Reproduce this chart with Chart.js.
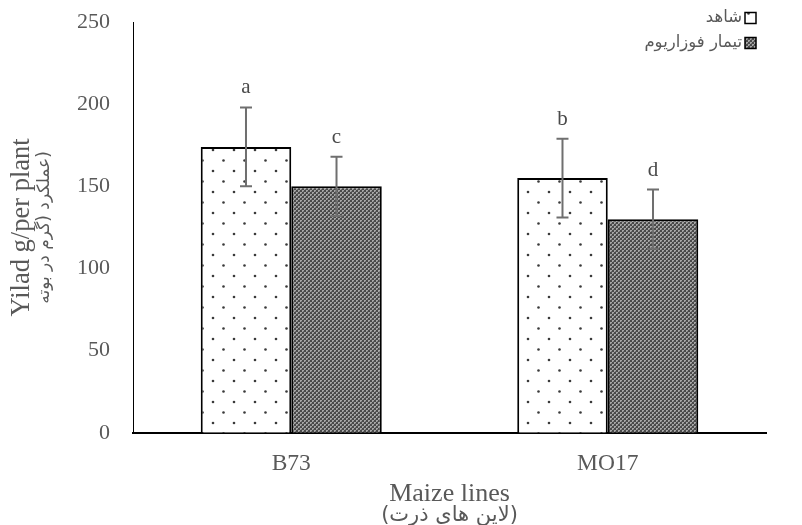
<!DOCTYPE html>
<html>
<head>
<meta charset="utf-8">
<script src="https://cdn.jsdelivr.net/npm/chart.js@4.4.1/dist/chart.umd.min.js"></script>
<style>
  html, body { margin: 0; padding: 0; background: #ffffff; }
  #wrap { width: 802px; height: 525px; position: relative; }
</style>
</head>
<body>
<div id="wrap"><canvas id="c" width="802" height="525"></canvas></div>
<script>
// ---- data ----
const categories = ['B73', 'MO17'];
const seriesNames = ['شاهد', 'تیمار فوزاریوم'];
const controlValues = [174, 155];
const fusariumValues = [150, 130];
const controlErrors = [24, 24];
const fusariumErrors = [18, 18];
const controlLetters = ['a', 'b'];
const fusariumLetters = ['c', 'd'];
const yTicks = [0, 50, 100, 150, 200, 250];
const xTitle = ['Maize lines', '(لاین های ذرت)'];
const yTitle = ['Yilad g/per plant', 'عملکرد (گرم در بوته\u2066)\u2069'];

// ---- patterns ----
function dotPattern() {
  const t = document.createElement('canvas');
  t.width = 21; t.height = 21;
  const g = t.getContext('2d');
  g.fillStyle = '#ffffff'; g.fillRect(0, 0, 21, 21);
  g.fillStyle = '#3a3a3a';
  g.beginPath(); g.arc(3, 3, 1.3, 0, Math.PI * 2); g.fill();
  g.beginPath(); g.arc(13.5, 13.5, 1.3, 0, Math.PI * 2); g.fill();
  return g.createPattern(t, 'repeat');
}
function gridPattern() {
  const t = document.createElement('canvas');
  t.width = 4; t.height = 4;
  const g = t.getContext('2d');
  g.fillStyle = '#4a4a4a'; g.fillRect(0, 0, 4, 4);
  g.fillStyle = '#a6a6a6';
  g.fillRect(0, 0, 2, 2);
  g.fillRect(2, 2, 2, 2);
  g.fillStyle = '#6e6e6e';
  g.fillRect(1, 1, 1, 1);
  g.fillRect(3, 3, 1, 1);
  return g.createPattern(t, 'repeat');
}
const fills = [dotPattern(), gridPattern()];
const errors = [controlErrors, fusariumErrors];
const letters = [controlLetters, fusariumLetters];

const serif = "'Liberation Serif', 'Times New Roman', 'DejaVu Sans', serif";
const arabic = "'DejaVu Sans', sans-serif";
const textGray = '#595959';

// ---- plugins ----
const errorBarPlugin = {
  id: 'errorBars',
  afterDatasetsDraw(chart) {
    const ctx = chart.ctx;
    const y = chart.scales.y;
    chart.data.datasets.forEach((ds, di) => {
      const meta = chart.getDatasetMeta(di);
      meta.data.forEach((bar, i) => {
        const v = ds.data[i];
        const e = errors[di][i];
        const x = bar.x;
        const top = y.getPixelForValue(v + e);
        const bot = y.getPixelForValue(v - e);
        ctx.save();
        ctx.strokeStyle = '#6f6f6f';
        ctx.lineWidth = 2;
        ctx.beginPath();
        ctx.moveTo(x, top); ctx.lineTo(x, bot);
        ctx.moveTo(x - 6, top); ctx.lineTo(x + 6, top);
        ctx.moveTo(x - 6, bot); ctx.lineTo(x + 6, bot);
        ctx.stroke();
        ctx.fillStyle = '#4a4a4a';
        ctx.font = '21px ' + serif;
        ctx.textAlign = 'center';
        ctx.textBaseline = 'bottom';
        ctx.fillText(letters[di][i], x, top - 9);
        ctx.restore();
      });
    });
  }
};

const titlesPlugin = {
  id: 'axisTitles',
  afterDraw(chart) {
    const ctx = chart.ctx;
    const a = chart.chartArea;
    const cx = (a.left + a.right) / 2;
    const cy = (a.top + a.bottom) / 2;
    ctx.save();
    ctx.fillStyle = textGray;
    ctx.textAlign = 'center';
    ctx.textBaseline = 'middle';
    // x title
    ctx.font = '26px ' + serif;
    ctx.fillText(xTitle[0], cx, a.bottom + 61);
    ctx.font = '21px ' + arabic;
    ctx.fillText(xTitle[1], cx, a.bottom + 83);
    // y title (rotated)
    ctx.translate(a.left, cy);
    ctx.rotate(-Math.PI / 2);
    ctx.font = '26.5px ' + serif;
    ctx.fillText(yTitle[0], 0, -111);
    ctx.font = '17px ' + arabic;
    ctx.fillText(yTitle[1], 0, -88);
    ctx.restore();
  }
};

const legendPlugin = {
  id: 'rtlLegend',
  afterDraw(chart) {
    const ctx = chart.ctx;
    const boxRight = 756, box = 11;
    const rows = [18, 43];
    chart.data.datasets.forEach((ds, di) => {
      const cy = rows[di];
      ctx.save();
      ctx.fillStyle = ds.backgroundColor;
      ctx.fillRect(boxRight - box, cy - box / 2, box, box);
      ctx.strokeStyle = '#000000';
      ctx.lineWidth = 1.5;
      ctx.strokeRect(boxRight - box, cy - box / 2, box, box);
      ctx.fillStyle = textGray;
      ctx.font = '16.5px ' + arabic;
      ctx.textAlign = 'right';
      ctx.textBaseline = 'middle';
      ctx.fillText(ds.label, boxRight - box - 3, cy);
      ctx.restore();
    });
  }
};

new Chart(document.getElementById('c'), {
  type: 'bar',
  data: {
    labels: categories,
    datasets: [
      { label: seriesNames[0], data: controlValues, backgroundColor: fills[0], borderColor: '#000000', borderWidth: 2 },
      { label: seriesNames[1], data: fusariumValues, backgroundColor: fills[1], borderColor: '#000000', borderWidth: 2 }
    ]
  },
  options: {
    responsive: false,
    animation: false,
    layout: { padding: { top: 22, right: 36, bottom: 30, left: 54 } },
    datasets: { bar: { categoryPercentage: 0.572, barPercentage: 1.0 } },
    plugins: {
      legend: { display: false },
      tooltip: { enabled: false }
    },
    scales: {
      x: {
        grid: { display: false, drawTicks: false },
        border: { display: true, color: '#000000', width: 2 },
        ticks: { color: textGray, font: { family: serif, size: 23.5 }, padding: 17 }
      },
      y: {
        min: 0, max: 250,
        afterBuildTicks(scale) { scale.ticks = yTicks.map(v => ({ value: v })); },
        afterFit(scale) { scale.paddingTop = 0; scale.paddingBottom = 0; },
        grid: { display: false, drawTicks: false },
        border: { display: true, color: '#000000', width: 1 },
        ticks: { color: textGray, font: { family: serif, size: 22 }, padding: 23 }
      }
    }
  },
  plugins: [errorBarPlugin, titlesPlugin, legendPlugin]
});
</script>
</body>
</html>
